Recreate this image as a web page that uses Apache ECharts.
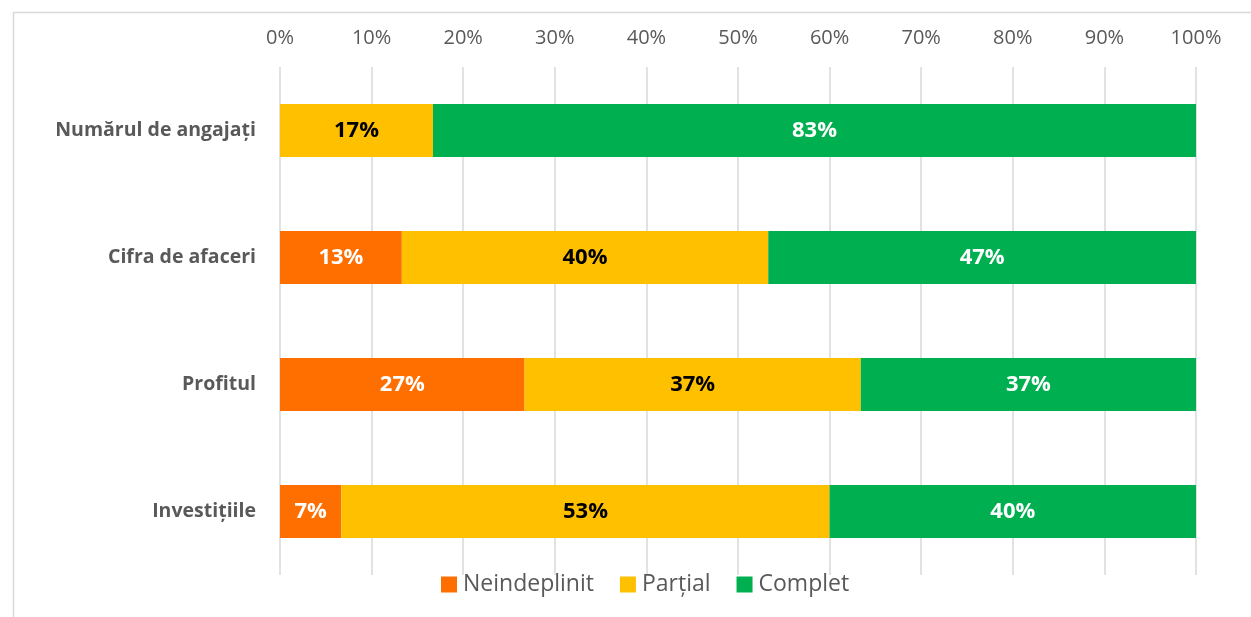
<!DOCTYPE html>
<html>
<head>
<meta charset="utf-8">
<script src="https://cdn.jsdelivr.net/npm/echarts@6/dist/echarts.min.js"></script>
<style>html,body{margin:0;padding:0;background:#fff}#c{width:1251px;height:617px}</style>
</head>
<body>
<div id="c"></div>
<script>
const categories = ['Numărul de angajați', 'Cifra de afaceri', 'Profitul', 'Investițiile'];
const neindeplinit = [0, 13.3, 26.7, 6.7];
const partial = [16.7, 40.0, 36.7, 53.3];
const complet = [83.3, 46.7, 36.7, 40.0];
const seriesNames = ['Neindeplinit', 'Parțial', 'Complet'];
const colors = ['#FF6F00', '#FFC000', '#00B050'];
const labelColors = ['#ffffff', '#000000', '#ffffff'];
const FONT = '"Open Sans", Lato, sans-serif';

const chart = echarts.init(document.getElementById('c'));
const dataSets = [neindeplinit, partial, complet];
chart.setOption({
  animation: false,
  graphic: [{
    type: 'rect', left: 11, top: 10, shape: {width: 1300, height: 700},
    style: {fill: 'none', stroke: '#d9d9d9', lineWidth: 1.5}, silent: true
  }],
  grid: {left: 280, right: 55, top: 67, bottom: 42},
  legend: {
    bottom: 16, left: 436, itemWidth: 16, itemHeight: 16, itemGap: 26,
    icon: 'rect',
    textStyle: {fontFamily: FONT, fontSize: 23, color: '#595959', padding: [0, 0, 0, 1]},
    data: seriesNames
  },
  xAxis: {
    type: 'value', position: 'top', min: 0, max: 100, interval: 10,
    axisLine: {show: false}, axisTick: {show: false},
    axisLabel: {formatter: '{value}%', fontFamily: FONT, fontSize: 20, color: '#595959', margin: 19},
    splitLine: {lineStyle: {color: '#d9d9d9', width: 1.5}}
  },
  yAxis: {
    type: 'category', inverse: true, data: categories,
    axisLine: {show: false}, axisTick: {show: false},
    axisLabel: {fontFamily: FONT, fontSize: 19.5, fontWeight: 'bold', color: '#595959', margin: 24}
  },
  series: dataSets.map((d, i) => ({
    name: seriesNames[i], type: 'bar', stack: 'total', barWidth: 53,
    itemStyle: {color: colors[i]},
    label: {
      show: true, position: 'inside', fontFamily: FONT, fontSize: 22, fontWeight: 'bold',
      color: labelColors[i],
      formatter: p => p.value > 0 ? Math.round(p.value) + '%' : ''
    },
    data: d
  }))
});
</script>
</body>
</html>
